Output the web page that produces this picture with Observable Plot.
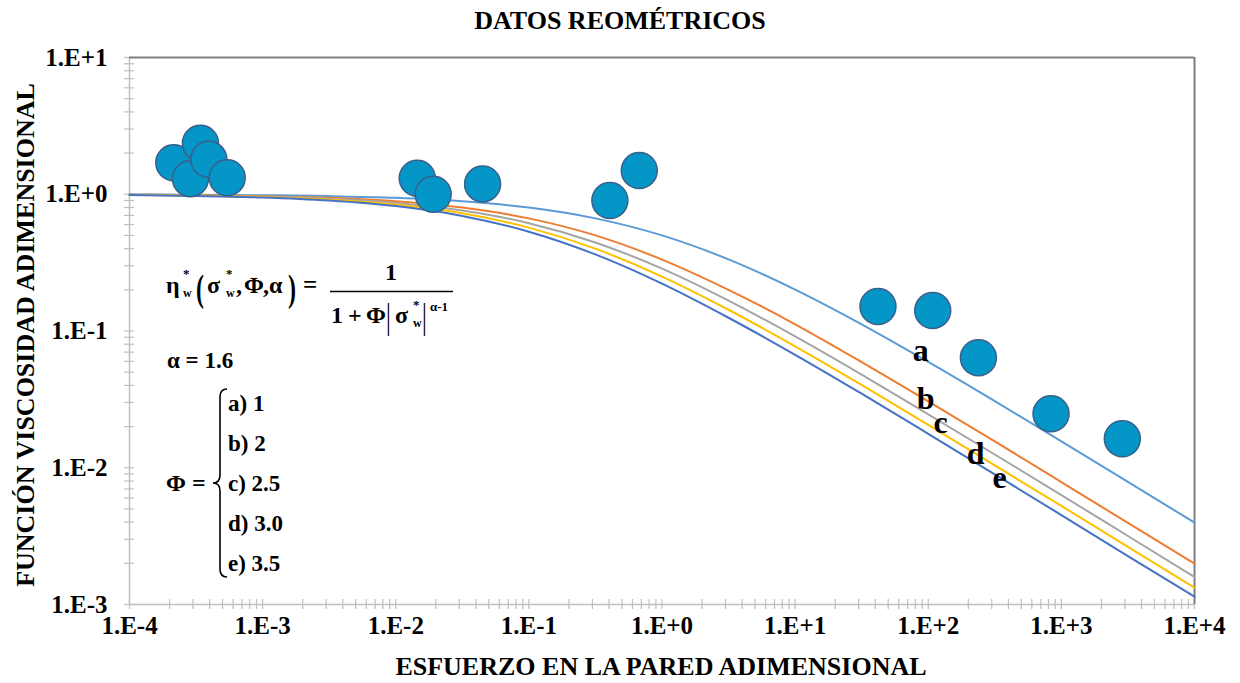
<!DOCTYPE html>
<html><head><meta charset="utf-8">
<script src="https://cdn.jsdelivr.net/npm/d3@7"></script>
<script src="https://cdn.jsdelivr.net/npm/@observablehq/plot@0.6"></script>
<style>
body{margin:0;background:#fff;font-family:'Liberation Serif','Times New Roman',serif;}
#title{height:40px;line-height:42px;text-align:center;font-weight:bold;font-size:26px;width:1240px;color:#000;}
#chart svg{display:block;font-family:'Liberation Serif','Times New Roman',serif !important;font-weight:bold;}
#chart svg text{font-family:'Liberation Serif','Times New Roman',serif !important;}
</style></head><body>
<div id="title">DATOS REOMÉTRICOS</div>
<div id="chart"></div>
<script>
// ---- data ----
const sigma = [1e-4, 3.16e-4, 1e-3, 3.16e-3, 1e-2, 3.16e-2, 1e-1, 3.16e-1, 1, 3.16, 10, 31.6, 100, 316, 1000, 3160, 10000];
const curveA = [0.996, 0.992, 0.984, 0.969, 0.941, 0.888, 0.799, 0.666, 0.500, 0.334, 0.201, 0.112, 0.0594, 0.0307, 0.0156, 0.00788, 0.00397];
const curveB = [0.992, 0.984, 0.969, 0.941, 0.888, 0.799, 0.666, 0.500, 0.333, 0.200, 0.112, 0.0593, 0.0306, 0.0156, 0.00786, 0.00395, 0.00199];
const curveC = [0.990, 0.980, 0.962, 0.927, 0.864, 0.760, 0.614, 0.444, 0.286, 0.167, 0.0913, 0.0480, 0.0246, 0.0125, 0.00631, 0.00317, 0.00159];
const curveD = [0.988, 0.977, 0.955, 0.913, 0.841, 0.726, 0.570, 0.400, 0.250, 0.143, 0.0773, 0.0403, 0.0206, 0.0104, 0.00526, 0.00264, 0.00133];
const curveE = [0.986, 0.973, 0.948, 0.900, 0.819, 0.694, 0.532, 0.363, 0.222, 0.125, 0.0670, 0.0348, 0.0177, 0.00895, 0.00451, 0.00226, 0.00114];
const curveNames = ["a", "b", "c", "d", "e"];
const curveColors = ["#5B9BD5", "#ED7D31", "#A5A5A5", "#FFC000", "#4472C4"];

const ptX = [2.15e-4, 2.87e-4, 3.41e-4, 3.94e-4, 5.42e-4, 0.0145, 0.0191, 0.0449, 0.406, 0.675, 41.9, 108, 238, 836, 2870];
const ptY = [1.70, 1.30, 2.36, 1.80, 1.32, 1.31, 1.00, 1.19, 0.90, 1.49, 0.151, 0.141, 0.0637, 0.0248, 0.0163];

const labelX = [87.7, 95.5, 124, 227, 344];
const labelY = [0.072, 0.0321, 0.0214, 0.0127, 0.00849];

const xDecades = [1e-4, 1e-3, 1e-2, 1e-1, 1, 10, 100, 1000, 10000];
const xTickLabels = ["1.E-4", "1.E-3", "1.E-2", "1.E-1", "1.E+0", "1.E+1", "1.E+2", "1.E+3", "1.E+4"];
const yDecades = [1e-3, 1e-2, 1e-1, 1, 10];
const yTickLabels = ["1.E-3", "1.E-2", "1.E-1", "1.E+0", "1.E+1"];
const minorMult = [1, 2, 3, 4, 5, 6, 7, 8, 9];

// ---- derived tables ----
const allCurves = [curveA, curveB, curveC, curveD, curveE];
const lineRows = [];
allCurves.forEach((c, k) => sigma.forEach((s, i) => lineRows.push({s, v: c[i], k: curveNames[k]})));
const points = ptX.map((x, i) => ({x, y: ptY[i]}));
const letters = curveNames.map((n, i) => ({n, x: labelX[i], y: labelY[i]}));
const minorTicks = (decs) => {
  const out = [];
  for (let i = 0; i < decs.length - 1; i++) for (const m of minorMult) out.push(decs[i] * m);
  out.push(decs[decs.length - 1]);
  return out;
};
const xMinor = minorTicks(xDecades);
const yMinor = minorTicks(yDecades);

const font = "'Liberation Serif','Times New Roman',serif";
const axisGray = "#BFBFBF";
const frameGray = "#7F7F7F";

const plot = Plot.plot({
  width: 1240, height: 643,
  marginTop: 17, marginRight: 46, marginBottom: 79, marginLeft: 129,
  style: {fontWeight: "bold", fontSize: "25px", color: "#000", background: "#fff", overflow: "visible"},
  x: {type: "log", domain: [1e-4, 1e4], axis: null},
  y: {type: "log", domain: [1e-3, 10], axis: null},
  color: {domain: curveNames, range: curveColors},
  marks: [
    Plot.ruleY([1e-3], {stroke: axisGray, strokeWidth: 1.5, x1: 1e-4, x2: 1e4}),
    Plot.ruleX([1e-4], {stroke: axisGray, strokeWidth: 1.5, y1: 1e-3, y2: 10}),
    Plot.axisX({ticks: xMinor, tickSize: 10, dy: -5, tickFormat: () => "", stroke: axisGray, strokeWidth: 1.2}),
    Plot.axisY({ticks: yMinor, tickSize: 10, dx: 5, tickFormat: () => "", stroke: axisGray, strokeWidth: 1.2}),
    Plot.axisX({ticks: xDecades, tickSize: 0, tickPadding: 12, fontSize: 25, fontWeight: "bold", fill: "#000",
      tickFormat: d => xTickLabels[xDecades.indexOf(d)], label: null}),
    Plot.axisY({ticks: yDecades, tickSize: 0, tickPadding: 22, fontSize: 25, fontWeight: "bold", fill: "#000",
      tickFormat: d => yTickLabels[yDecades.indexOf(d)], label: null}),
    Plot.ruleY([10], {stroke: frameGray, strokeWidth: 2, x1: 1e-4, x2: 1e4}),
    Plot.ruleX([1e4], {stroke: frameGray, strokeWidth: 2, y1: 1e-3, y2: 10}),
    Plot.line(lineRows, {x: "s", y: "v", z: "k", stroke: "k", strokeWidth: 2, curve: "monotone-x"}),
    Plot.dot(points, {x: "x", y: "y", r: 18, fill: "#0596C8", stroke: "#3A5F8A", strokeWidth: 1.5}),
    Plot.text(letters, {x: "x", y: "y", text: "n", fontSize: 32, fontWeight: "bold", fill: "#000"})
  ]
});
plot.setAttribute("font-family", font);
document.getElementById("chart").appendChild(plot);

// ---- annotations (text) ----
const svg = d3.select(plot);
svg.append("text").attr("x", 661).attr("y", 635).attr("text-anchor", "middle")
  .attr("font-family", font).attr("font-size", 26).attr("font-weight", "bold").attr("fill", "#000")
  .text("ESFUERZO EN LA PARED ADIMENSIONAL");
svg.append("text").attr("transform", "translate(34,295) rotate(-90)").attr("text-anchor", "middle")
  .attr("font-family", font).attr("font-size", 26).attr("font-weight", "bold").attr("fill", "#000")
  .text("FUNCIÓN VISCOSIDAD ADIMENSIONAL");

// formula block in page coordinates
const g = svg.append("g").attr("transform", "translate(0,-40)")
  .attr("font-family", font).attr("font-weight", "bold").attr("fill", "#000").attr("text-anchor", "start");
const t = (x, y, s, size) => g.append("text").attr("x", x).attr("y", y).attr("font-size", size).text(s);
const ts = (x, y, s, size, sy, weight) => g.append("text")
  .attr("transform", `translate(${x},${y}) scale(1,${sy})`).attr("font-size", size)
  .attr("font-weight", weight || "bold").text(s);

t(166, 293, "η", 24);
t(183, 278, "*", 13);
t(183, 297, "w", 12);
ts(196, 301, "(", 24, 1.55);
t(207, 293, "σ", 24);
t(226, 278, "*", 13);
t(226, 297, "w", 12);
t(236, 293, ",", 24);
t(244, 293, "Φ", 24);
t(263, 293, ",", 24);
t(269, 293, "α", 24);
ts(288, 301, ")", 24, 1.55);
t(303, 293, "=", 25);
t(385, 280, "1", 24);
g.append("line").attr("x1", 330).attr("x2", 453).attr("y1", 291.5).attr("y2", 291.5).attr("stroke", "#000").attr("stroke-width", 1.3);
t(331, 323, "1", 24);
t(348, 323, "+", 24);
t(366, 323, "Φ", 24);
ts(386, 328, "|", 24, 1.45, "normal");
t(395, 323, "σ", 24);
t(413, 309, "*", 13);
t(413, 327, "w", 12);
ts(422, 328, "|", 24, 1.45, "normal");
t(430, 311, "α-1", 13);

t(167, 368, "α = 1.6", 23);
t(166, 491, "Φ =", 24);
g.append("path").attr("d", "M227,389 Q220,389 220,397 L220,475 Q220,483 213,483 Q220,483 220,491 L220,569 Q220,577 227,577")
  .attr("fill", "none").attr("stroke", "#000").attr("stroke-width", 1.6);
const items = ["a) 1", "b) 2", "c) 2.5", "d) 3.0", "e) 3.5"];
items.forEach((s, i) => t(228, 411 + 40 * i, s, 23));
</script></body></html>
